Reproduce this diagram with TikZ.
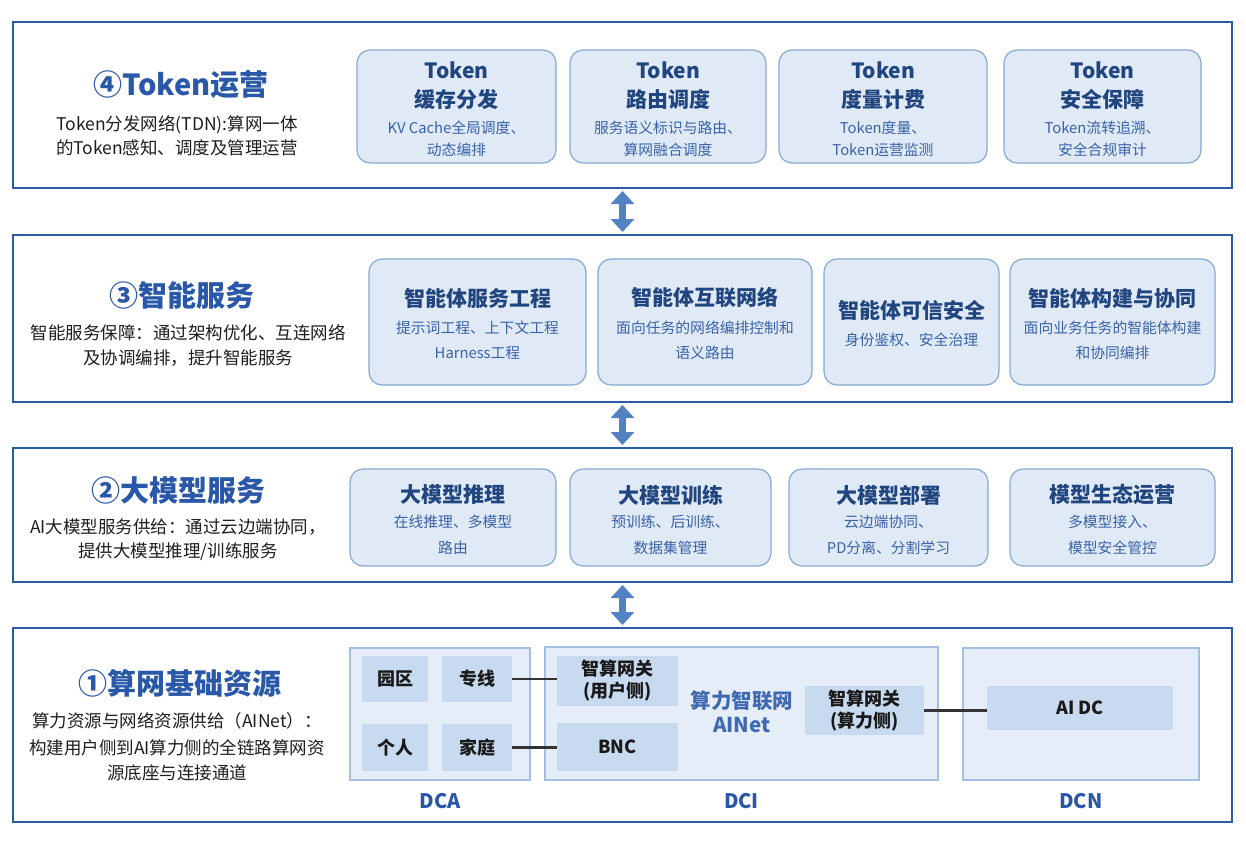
\documentclass[tikz,border=0pt]{standalone}
\usepackage{fontspec}
\setmainfont{Noto Sans CJK SC}
\usetikzlibrary{arrows.meta}
\definecolor{layerborder}{HTML}{2D5CA6}
\definecolor{ttlblue}{HTML}{2A58A8}
\definecolor{boxfill}{HTML}{E0EAF6}
\definecolor{boxline}{HTML}{86A8D3}
\definecolor{boxtitle}{HTML}{21457F}
\definecolor{subblue}{HTML}{3A62A7}
\definecolor{descgray}{HTML}{1E1E1E}
\definecolor{contfill}{HTML}{E5EDF8}
\definecolor{contline}{HTML}{A4BFE2}
\definecolor{itemfill}{HTML}{C7DAEF}
\definecolor{arrowblue}{HTML}{5282C2}
\definecolor{linkgray}{HTML}{333333}
\tikzset{
  layer/.style={draw=layerborder, line width=2.4pt, fill=white, rectangle, inner sep=0pt, outer sep=0pt},
  ibox/.style={draw=boxline, line width=1.2pt, fill=boxfill, rounded corners=13pt, rectangle, inner sep=0pt},
  cont/.style={draw=contline, line width=1.2pt, fill=contfill, rectangle, inner sep=0pt},
  item/.style={fill=itemfill, rectangle, inner sep=0pt, font=\fontsize{18}{22}\selectfont\bfseries, text=black!90, align=center},
  ltitle/.style={font=\fontsize{29}{32}\selectfont\bfseries, text=ttlblue, inner sep=0pt},
  ldesc/.style={font=\fontsize{17.5}{20}\selectfont, text=descgray, inner sep=0pt},
  btitle/.style={font=\fontsize{21}{24}\selectfont\bfseries, text=boxtitle, inner sep=0pt},
  bsub/.style={font=\fontsize{14.8}{17}\selectfont, text=subblue, inner sep=0pt},
  dlabel/.style={font=\fontsize{20}{22}\selectfont\bfseries, text=ttlblue, inner sep=0pt},
  dbl/.style={line width=7pt, draw=arrowblue, {Triangle[width=23pt,length=13pt]}-{Triangle[width=23pt,length=13pt]}},
  link/.style={draw=linkgray, line width=2.4pt}
}
\begin{document}
\begin{tikzpicture}[x=1pt,y=-1pt]
\useasboundingbox (0,0) rectangle (1246,846);
% layers
\node[layer, minimum width=1219pt, minimum height=166pt] (L4) at (622.5,105) {};
\node[layer, minimum width=1219pt, minimum height=167pt] (L3) at (622.5,318.5) {};
\node[layer, minimum width=1219pt, minimum height=134pt] (L2) at (622.5,515) {};
\node[layer, minimum width=1219pt, minimum height=194pt] (L1) at (622.5,725) {};
% arrows
\draw[dbl] ([yshift=-3pt]L4.south) -- ([yshift=3pt]L3.north);
\draw[dbl] ([yshift=-3pt]L3.south) -- ([yshift=3pt]L2.north);
\draw[dbl] ([yshift=-3pt]L2.south) -- ([yshift=3pt]L1.north);

% ---- Layer 4
\node[ltitle] (t4) at (181,85) {④Token运营};
\node[ldesc] (d4a) at (177,125) {Token分发网络(TDN):算网一体};
\node[ldesc] (d4b) at (177,148) {的Token感知、调度及管理运营};
\node[ibox, minimum width=199pt, minimum height=113pt] (b41) at (456.5,106.5) {};
\node[ibox, minimum width=196pt, minimum height=113pt] (b42) at (668,106.5) {};
\node[ibox, minimum width=208pt, minimum height=113pt] (b43) at (883,106.5) {};
\node[ibox, minimum width=197pt, minimum height=113pt] (b44) at (1102.5,106.5) {};
\node[btitle] (b41t) at (456.5,70) {Token};
\node[btitle] (b41u) at (456.5,99) {缓存分发};
\node[bsub] (b41s) at (456.5,128) {KV Cache全局调度、};
\node[bsub] (b41v) at (456.5,150) {动态编排};
\node[btitle] (b42t) at (668,70) {Token};
\node[btitle] (b42u) at (668,99) {路由调度};
\node[bsub] (b42s) at (668,128) {服务语义标识与路由、};
\node[bsub] (b42v) at (668,150) {算网融合调度};
\node[btitle] (b43t) at (883,70) {Token};
\node[btitle] (b43u) at (883,99) {度量计费};
\node[bsub] (b43s) at (883,128) {Token度量、};
\node[bsub] (b43v) at (883,150) {Token运营监测};
\node[btitle] (b44t) at (1102.5,70) {Token};
\node[btitle] (b44u) at (1102.5,99) {安全保障};
\node[bsub] (b44s) at (1102.5,128) {Token流转追溯、};
\node[bsub] (b44v) at (1102.5,150) {安全合规审计};

% ---- Layer 3
\node[ltitle] (t3) at (182,295) {③智能服务};
\node[ldesc] (d3a) at (188,333) {智能服务保障：通过架构优化、互连网络};
\node[ldesc] (d3b) at (188,358) {及协调编排，提升智能服务};
\node[ibox, minimum width=217pt, minimum height=126pt] (b31) at (477.5,322) {};
\node[ibox, minimum width=214pt, minimum height=126pt] (b32) at (705,322) {};
\node[ibox, minimum width=175pt, minimum height=126pt] (b33) at (911.5,322) {};
\node[ibox, minimum width=205pt, minimum height=126pt] (b34) at (1112.5,322) {};
\node[btitle] (b31t) at (477.5,298) {智能体服务工程};
\node[bsub] (b31s) at (477.5,328) {提示词工程、上下文工程};
\node[bsub] (b31v) at (477.5,353) {Harness工程};
\node[btitle] (b32t) at (705,298) {智能体互联网络};
\node[bsub] (b32s) at (705,328) {面向任务的网络编排控制和};
\node[bsub] (b32v) at (705,353) {语义路由};
\node[btitle] (b33t) at (911.5,311) {智能体可信安全};
\node[bsub] (b33s) at (911.5,340) {身份鉴权、安全治理};
\node[btitle] (b34t) at (1112.5,298) {智能体构建与协同};
\node[bsub] (b34s) at (1112.5,328) {面向业务任务的智能体构建};
\node[bsub] (b34v) at (1112.5,353) {和协同编排};

% ---- Layer 2
\node[ltitle] (t2) at (178,490) {②大模型服务};
\node[ldesc] (d2a) at (178,527) {AI大模型服务供给：通过云边端协同，};
\node[ldesc] (d2b) at (178,552) {提供大模型推理/训练服务};
\node[ibox, minimum width=206pt, minimum height=97pt] (b21) at (453,517.5) {};
\node[ibox, minimum width=201pt, minimum height=97pt] (b22) at (670.5,517.5) {};
\node[ibox, minimum width=199pt, minimum height=97pt] (b23) at (888.5,517.5) {};
\node[ibox, minimum width=205pt, minimum height=97pt] (b24) at (1112.5,517.5) {};
\node[btitle] (b21t) at (453,495) {大模型推理};
\node[bsub] (b21s) at (453,522) {在线推理、多模型};
\node[bsub] (b21v) at (453,548) {路由};
\node[btitle] (b22t) at (670.5,495) {大模型训练};
\node[bsub] (b22s) at (670.5,522) {预训练、后训练、};
\node[bsub] (b22v) at (670.5,548) {数据集管理};
\node[btitle] (b23t) at (888.5,495) {大模型部署};
\node[bsub] (b23s) at (888.5,522) {云边端协同、};
\node[bsub] (b23v) at (888.5,548) {PD分离、分割学习};
\node[btitle] (b24t) at (1112.5,495) {模型生态运营};
\node[bsub] (b24s) at (1112.5,522) {多模型接入、};
\node[bsub] (b24v) at (1112.5,548) {模型安全管控};

% ---- Layer 1
\node[ltitle] (t1) at (180,683) {①算网基础资源};
\node[ldesc] (d1a) at (177,721) {算力资源与网络资源供给（AINet）：};
\node[ldesc] (d1b) at (177,748) {构建用户侧到AI算力侧的全链路算网资};
\node[ldesc] (d1c) at (177,773) {源底座与连接通道};
% DCA
\node[cont, minimum width=180pt, minimum height=132pt] (dca) at (440,714) {};
\node[item, minimum width=66pt, minimum height=46pt] (yq) at (395,679) {园区};
\node[item, minimum width=70pt, minimum height=46pt] (zx) at (477,679) {专线};
\node[item, minimum width=66pt, minimum height=47pt] (gr) at (395,747.5) {个人};
\node[item, minimum width=70pt, minimum height=47pt] (jt) at (477,747.5) {家庭};
\node[dlabel] (ldca) at (440,801) {DCA};
% DCI
\node[cont, minimum width=393pt, minimum height=133pt] (dci) at (741.5,713.5) {};
\node[item, minimum width=121pt, minimum height=50pt] (gwu) at (617.5,681) {智算网关\\(用户侧)};
\node[item, minimum width=121pt, minimum height=48pt] (bnc) at (617.5,747) {BNC};
\node[item, minimum width=119pt, minimum height=49pt] (gwc) at (864.5,710.5) {智算网关\\(算力侧)};
\node[font=\fontsize{20.5}{24}\selectfont\bfseries, text=ttlblue!90!white, align=center, inner sep=0pt] (ainet) at (742,712) {算力智联网\\AINet};
\node[dlabel] (ldci) at (741.5,801) {DCI};
% DCN
\node[cont, minimum width=236pt, minimum height=132pt] (dcn) at (1081,714) {};
\node[item, minimum width=186pt, minimum height=44pt] (aidc) at (1080,708) {AI DC};
\node[dlabel] (ldcn) at (1081,801) {DCN};
% links
\draw[link] (zx.east) -- (zx.east -| gwu.west);
\draw[link] (jt.east) -- (jt.east -| bnc.west);
\draw[link] (gwc.east) -- (gwc.east -| aidc.west);
\end{tikzpicture}
\end{document}
